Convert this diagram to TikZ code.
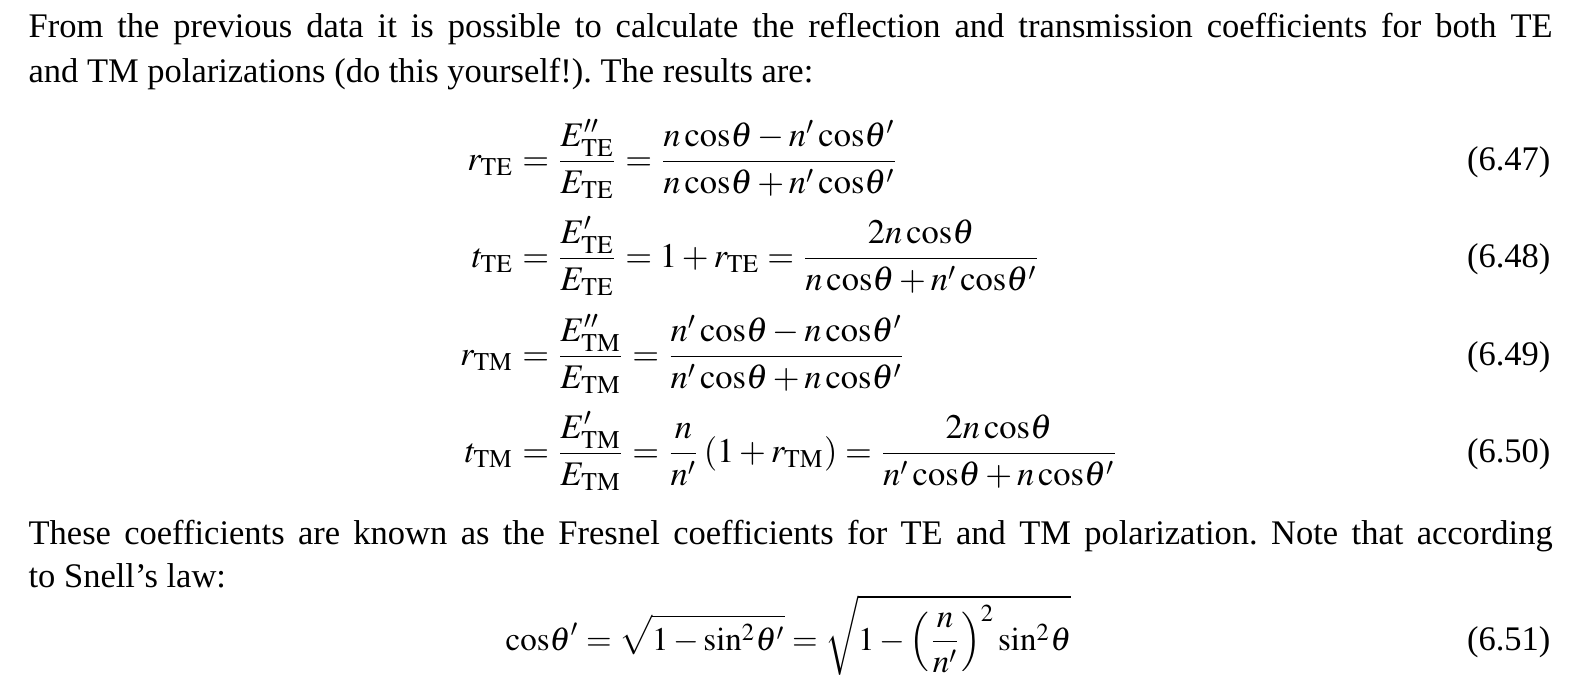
\documentclass[tikz,border=0pt,11pt]{standalone}
\usepackage{amsmath}
\usepackage{mathptmx}
\usepackage[no-math]{fontspec}
\setmainfont{Liberation Serif}
\usepackage{tikz}
\newcommand{\ccos}{\cos\!}
\newcommand{\csin}{\sin\!}
\frenchspacing

\begin{document}
\begin{tikzpicture}[x=0.33333pt,y=-0.33333pt,
  font=\fontsize{11.5}{14}\selectfont,
  line/.style={anchor=base west,inner sep=0pt},
  lhs/.style={anchor=base east,inner sep=0pt},
  rhs/.style={anchor=base west,inner sep=0pt},
  eqno/.style={anchor=base east,inner sep=0pt}]
\useasboundingbox (0,0) rectangle (1596,686);
\node[line] (textA) at (28,37) {\makebox[508pt][s]{From the previous data it is possible to calculate the reflection and transmission coefficients for both TE}};
\node[line] (textB) at (28,82) {and TM polarizations (do this yourself!). The results are:};
\node[lhs] (rTE) at (514,170) {$r_{\mathrm{TE}}$};
\node[rhs] (rTEeq) at (rTE.base east) {$\displaystyle {}=\frac{E''_{\mathrm{TE}}}{E_{\mathrm{TE}}}=\frac{n\ccos\theta-n'\ccos\theta'}{n\ccos\theta+n'\ccos\theta'}$};
\node[eqno] (rTEno) at (1551,170) {(6.47)};
\node[lhs] (tTE) at (514,267) {$t_{\mathrm{TE}}$};
\node[rhs] (tTEeq) at (tTE.base east) {$\displaystyle {}=\frac{E'_{\mathrm{TE}}}{E_{\mathrm{TE}}}=1+r_{\mathrm{TE}}=\frac{2n\ccos\theta}{n\ccos\theta+n'\ccos\theta'}$};
\node[eqno] (tTEno) at (1551,267) {(6.48)};
\node[lhs] (rTM) at (514,365) {$r_{\mathrm{TM}}$};
\node[rhs] (rTMeq) at (rTM.base east) {$\displaystyle {}=\frac{E''_{\mathrm{TM}}}{E_{\mathrm{TM}}}=\frac{n'\ccos\theta-n\ccos\theta'}{n'\ccos\theta+n\ccos\theta'}$};
\node[eqno] (rTMno) at (1551,365) {(6.49)};
\node[lhs] (tTM) at (514,462) {$t_{\mathrm{TM}}$};
\node[rhs] (tTMeq) at (tTM.base east) {$\displaystyle {}=\frac{E'_{\mathrm{TM}}}{E_{\mathrm{TM}}}=\frac{n}{n'}\,(1+r_{\mathrm{TM}})=\frac{2n\ccos\theta}{n'\ccos\theta+n\ccos\theta'}$};
\node[eqno] (tTMno) at (1551,462) {(6.50)};
\node[line] (textC) at (28,544) {\makebox[508pt][s]{These coefficients are known as the Fresnel coefficients for TE and TM polarization. Note that according}};
\node[line] (textD) at (28,587) {to Snell’s law:};
\node[line,font=\fontsize{11}{13}\selectfont] (snell) at (505,650) {$\displaystyle \ccos\theta'=\sqrt{1-\csin^2\theta'}=\sqrt{1-\left(\frac{n}{n'}\right)^{2}\csin^2\theta}$};
\node[eqno] (snellno) at (1551,650) {(6.51)};
\end{tikzpicture}
\end{document}
